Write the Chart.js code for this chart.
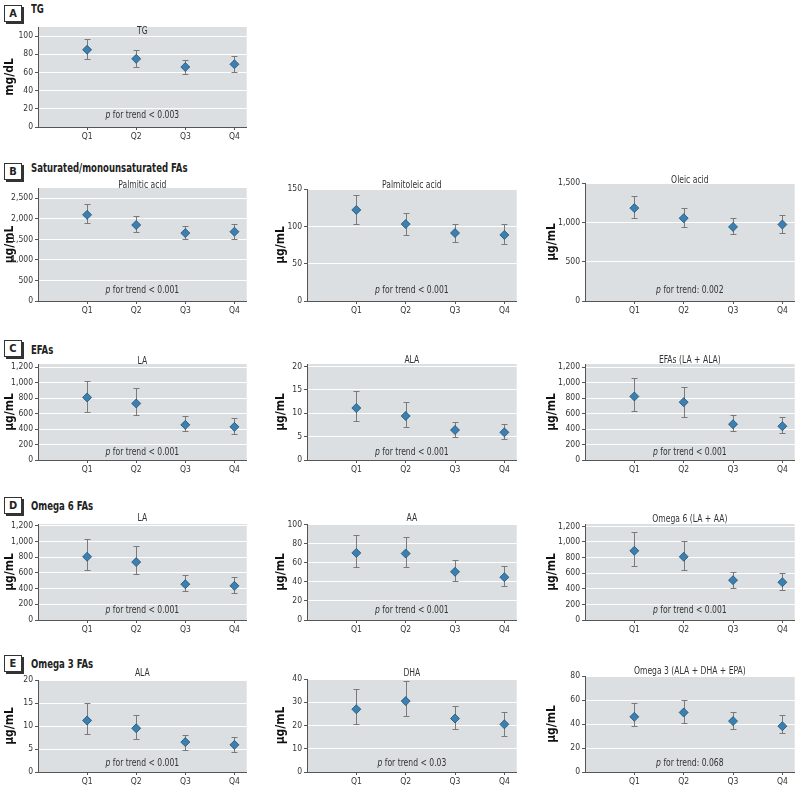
<!DOCTYPE html>
<html>
<head>
<meta charset="utf-8">
<script src="https://cdn.jsdelivr.net/npm/chart.js@4.4.1/dist/chart.umd.min.js"></script>
<style>
  body { margin: 0; background: #fff; }
  #page { position: relative; width: 800px; height: 789px; overflow: hidden;
          font-family: "Liberation Sans Narrow", "DejaVu Sans Condensed", sans-serif; color: #222; }
  .box { position: absolute; width: 16px; height: 15px; border: 1px solid #333; box-shadow: 2px 2px 0 #333;
         font-weight: bold; font-size: 11px; line-height: 15px; text-align: center; background: #fff; }
  .head { position: absolute; left: 31px; font-weight: bold; font-size: 12.5px; line-height: 14px;
          white-space: nowrap; transform: scaleX(0.76); transform-origin: 0 0; }
  canvas { position: absolute; }
</style>
</head>
<body>
<div id="page"></div>
<script>
const quartiles = ["Q1", "Q2", "Q3", "Q4"];

// A: TG (mg/dL)
const tgMean = [85, 75, 66, 69];
const tgLow = [75, 66, 58.5, 61];
const tgHigh = [97, 85, 74, 78];

// B: saturated / monounsaturated FAs (µg/mL)
const palmiticMean = [2097, 1850, 1653, 1686];
const palmiticLow = [1891, 1678, 1513, 1513];
const palmiticHigh = [2352, 2064, 1834, 1867];
const palmitoleicMean = [122, 103, 91, 88.5];
const palmitoleicLow = [103.5, 88, 79, 76.5];
const palmitoleicHigh = [142, 118.5, 103.5, 103.5];
const oleicMean = [1181, 1053, 942, 972];
const oleicLow = [1053, 942, 853, 870];
const oleicHigh = [1338, 1181, 1053, 1087];

// C: EFAs
const laMean = [808, 730, 454, 428];
const laLow = [626, 579, 371, 341];
const laHigh = [1024, 929, 562, 544];
const alaMean = [11.1, 9.4, 6.4, 5.9];
const alaLow = [8.4, 7.1, 4.9, 4.5];
const alaHigh = [14.7, 12.4, 8.1, 7.6];
const efaMean = [821, 747, 462, 436];
const efaLow = [639, 557, 371, 346];
const efaHigh = [1054, 942, 579, 553];

// D: omega 6 FAs
const la6Mean = [804, 736, 455, 434];
const la6Low = [634, 583, 370, 349];
const la6High = [1034, 936, 566, 549];
const aaMean = [70.6, 69.9, 50.7, 45];
const aaLow = [56, 55.3, 41.1, 35.8];
const aaHigh = [89.7, 87.6, 63.1, 57.1];
const omega6Mean = [887, 810, 510, 484];
const omega6Low = [694, 642, 411, 390];
const omega6High = [1127, 1015, 621, 600];

// E: omega 3 FAs
const ala3Mean = [11.2, 9.5, 6.5, 5.9];
const ala3Low = [8.3, 7.1, 4.8, 4.4];
const ala3High = [14.9, 12.3, 8.1, 7.7];
const dhaMean = [27, 30.5, 23, 20.5];
const dhaLow = [20.5, 24, 18.5, 15.5];
const dhaHigh = [35.5, 39, 28.5, 26];
const omega3Mean = [46, 49.6, 42.4, 38.2];
const omega3Low = [38.2, 41, 36, 32.4];
const omega3High = [57.3, 59.8, 50.1, 47.3];

const FONT = "'Liberation Sans Narrow', 'DejaVu Sans Condensed', sans-serif";
const plotBg = "#dcdfe1";
const axisColor = "#555";
const barColor = "#7a7a7a";
const markerFill = "#3b80b2";
const markerLine = "#22506f";

Chart.defaults.font.family = FONT;
Chart.defaults.color = "#333";

const headers = [
  { letter: "A", text: "TG", boxTop: 5, textY: 9 },
  { letter: "B", text: "Saturated/monounsaturated FAs", boxTop: 163, textY: 168 },
  { letter: "C", text: "EFAs", boxTop: 340, textY: 350 },
  { letter: "D", text: "Omega 6 FAs", boxTop: 497, textY: 506 },
  { letter: "E", text: "Omega 3 FAs", boxTop: 655, textY: 664 }
];

// column layout: y axis box width and title padding
const cols = [
  { axis: 38, right: 250, yW: 38, tPad: 3 },
  { axis: 307, right: 520, yW: 36, tPad: 3 },
  { axis: 585, right: 798, yW: 42, tPad: 2 }
];

const panels = [
  { col: 0, top: 27, bottom: 127, title: "TG", unit: "mg/dL", mean: tgMean, low: tgLow, high: tgHigh, max: 110, step: 20, p: " for trend < 0.003", tDy: 4, pDy: -12 },

  { col: 0, top: 188, bottom: 301, title: "Palmitic acid", unit: "µg/mL", mean: palmiticMean, low: palmiticLow, high: palmiticHigh, max: 2750, step: 500, p: " for trend < 0.001", tDy: -3, pDy: -11 },
  { col: 1, top: 189, bottom: 301, title: "Palmitoleic acid", unit: "µg/mL", mean: palmitoleicMean, low: palmitoleicLow, high: palmitoleicHigh, max: 150, step: 50, p: " for trend < 0.001", tDy: -4, pDy: -11 },
  { col: 2, top: 183, bottom: 301, title: "Oleic acid", unit: "µg/mL", mean: oleicMean, low: oleicLow, high: oleicHigh, max: 1500, step: 500, p: " for trend: 0.002", tDy: -3, pDy: -11 },

  { col: 0, top: 364, bottom: 460, title: "LA", unit: "µg/mL", mean: laMean, low: laLow, high: laHigh, max: 1240, step: 200, p: " for trend < 0.001", tDy: -3, pDy: -8 },
  { col: 1, top: 364, bottom: 460, title: "ALA", unit: "µg/mL", mean: alaMean, low: alaLow, high: alaHigh, max: 20.5, step: 5, p: " for trend < 0.001", tDy: -4, pDy: -8 },
  { col: 2, top: 364, bottom: 460, title: "EFAs (LA + ALA)", unit: "µg/mL", mean: efaMean, low: efaLow, high: efaHigh, max: 1240, step: 200, p: " for trend < 0.001", tDy: -4, pDy: -8 },

  { col: 0, top: 524, bottom: 620, title: "LA", unit: "µg/mL", mean: la6Mean, low: la6Low, high: la6High, max: 1220, step: 200, p: " for trend < 0.001", tDy: -6, pDy: -10 },
  { col: 1, top: 524, bottom: 620, title: "AA", unit: "µg/mL", mean: aaMean, low: aaLow, high: aaHigh, max: 101, step: 20, p: " for trend < 0.001", tDy: -6, pDy: -10 },
  { col: 2, top: 524, bottom: 620, title: "Omega 6 (LA + AA)", unit: "µg/mL", mean: omega6Mean, low: omega6Low, high: omega6High, max: 1230, step: 200, p: " for trend < 0.001", tDy: -5, pDy: -10 },

  { col: 0, top: 680, bottom: 772, title: "ALA", unit: "µg/mL", mean: ala3Mean, low: ala3Low, high: ala3High, max: 20, step: 5, p: " for trend < 0.001", tDy: -7, pDy: -9 },
  { col: 1, top: 679, bottom: 772, title: "DHA", unit: "µg/mL", mean: dhaMean, low: dhaLow, high: dhaHigh, max: 40, step: 10, p: " for trend < 0.03", tDy: -6, pDy: -9 },
  { col: 2, top: 676, bottom: 772, title: "Omega 3 (ALA + DHA + EPA)", unit: "µg/mL", mean: omega3Mean, low: omega3Low, high: omega3High, max: 80, step: 20, p: " for trend: 0.068", tDy: -5, pDy: -9 }
];

const page = document.getElementById("page");

headers.forEach(h => {
  const box = document.createElement("div");
  box.className = "box";
  box.style.left = "4px";
  box.style.top = h.boxTop + "px";
  box.textContent = h.letter;
  page.appendChild(box);
  const t = document.createElement("div");
  t.className = "head";
  t.style.top = (h.textY - 7) + "px";
  t.textContent = h.text;
  page.appendChild(t);
});

// draw narrow text by squeezing it horizontally
function narrowText(ctx, str, x, y, sx) {
  ctx.save();
  ctx.translate(x, y);
  ctx.scale(sx, 1);
  ctx.fillText(str, 0, 0);
  ctx.restore();
}

// background, error bars, panel title and p-value text
function decor(p) {
  return {
    id: "decor",
    beforeDraw(chart) {
      const { ctx, chartArea: a } = chart;
      ctx.save();
      ctx.fillStyle = plotBg;
      ctx.fillRect(a.left, a.top, a.right - a.left, a.bottom - a.top);
      ctx.restore();
    },
    beforeDatasetsDraw(chart) {
      const { ctx, scales: { x, y } } = chart;
      ctx.save();
      ctx.strokeStyle = barColor;
      ctx.lineWidth = 1;
      p.low.forEach((lo, i) => {
        const px = Math.round(x.getPixelForValue(i + 1)) + 0.5;
        const y1 = Math.round(y.getPixelForValue(lo)) + 0.5;
        const y2 = Math.round(y.getPixelForValue(p.high[i])) + 0.5;
        ctx.beginPath();
        ctx.moveTo(px, y1); ctx.lineTo(px, y2);
        ctx.moveTo(px - 3, y1); ctx.lineTo(px + 3, y1);
        ctx.moveTo(px - 3, y2); ctx.lineTo(px + 3, y2);
        ctx.stroke();
      });
      ctx.restore();
    },
    afterDraw(chart) {
      const { ctx, chartArea: a } = chart;
      const cx = (a.left + a.right) / 2;
      const sq = 0.85;
      ctx.save();
      ctx.fillStyle = "#333";
      ctx.textBaseline = "middle";
      ctx.textAlign = "left";
      ctx.font = "10px " + FONT;
      const tw = ctx.measureText(p.title).width * sq;
      narrowText(ctx, p.title, cx - tw / 2, a.top + p.tDy, sq);
      // p for trend
      const yy = a.bottom + p.pDy;
      ctx.font = "italic 10px " + FONT;
      const w1 = ctx.measureText("p").width * sq;
      ctx.font = "10px " + FONT;
      const w2 = ctx.measureText(p.p).width * sq;
      const sx = cx - (w1 + w2) / 2;
      ctx.font = "italic 10px " + FONT;
      narrowText(ctx, "p", sx, yy, sq);
      ctx.font = "10px " + FONT;
      narrowText(ctx, p.p, sx + w1, yy, sq);
      ctx.restore();
    }
  };
}

const padTop = 12, xH = 18;

panels.forEach(p => {
  const c = cols[p.col];
  const left = c.axis - c.yW;
  const cv = document.createElement("canvas");
  cv.width = c.right - left + 2;
  cv.height = p.bottom - p.top + padTop + xH;
  cv.style.left = left + "px";
  cv.style.top = (p.top - padTop) + "px";
  page.appendChild(cv);

  new Chart(cv.getContext("2d"), {
    type: "scatter",
    data: {
      datasets: [{
        data: p.mean.map((v, i) => ({ x: i + 1, y: v })),
        pointStyle: "rectRot",
        pointRadius: 4.5,
        backgroundColor: markerFill,
        borderColor: markerLine,
        borderWidth: 0.8,
        showLine: false
      }]
    },
    options: {
      responsive: false,
      animation: false,
      devicePixelRatio: 1,
      layout: { padding: { top: padTop, right: 2, left: 0, bottom: 0 } },
      plugins: { legend: { display: false }, tooltip: { enabled: false } },
      scales: {
        x: {
          type: "linear",
          min: 0,
          max: 4.25,
          afterBuildTicks: s => { s.ticks = quartiles.map((q, i) => ({ value: i + 1 })); },
          afterFit: s => { s.height = xH; },
          ticks: { callback: v => quartiles[v - 1], font: { size: 8.5 }, padding: 2, maxRotation: 0, color: "#333" },
          grid: { drawOnChartArea: false, tickLength: 3, color: axisColor },
          border: { color: axisColor, width: 1 }
        },
        y: {
          min: 0,
          max: p.max,
          afterBuildTicks: s => {
            const t = [];
            for (let v = 0; v <= p.max + 1e-9; v += p.step) t.push({ value: v });
            s.ticks = t;
          },
          afterFit: s => { s.width = c.yW; },
          ticks: { callback: v => v.toLocaleString("en-US"), font: { size: 8.5 }, padding: 2, color: "#333" },
          grid: { color: "#ffffff", lineWidth: 1, tickColor: axisColor, tickLength: 3 },
          border: { color: axisColor, width: 1 },
          title: { display: true, text: p.unit, font: { size: 12, weight: "bold" }, color: "#111", padding: { top: c.tPad, bottom: 0 } }
        }
      }
    },
    plugins: [decor(p)]
  });
});
</script>
</body>
</html>
